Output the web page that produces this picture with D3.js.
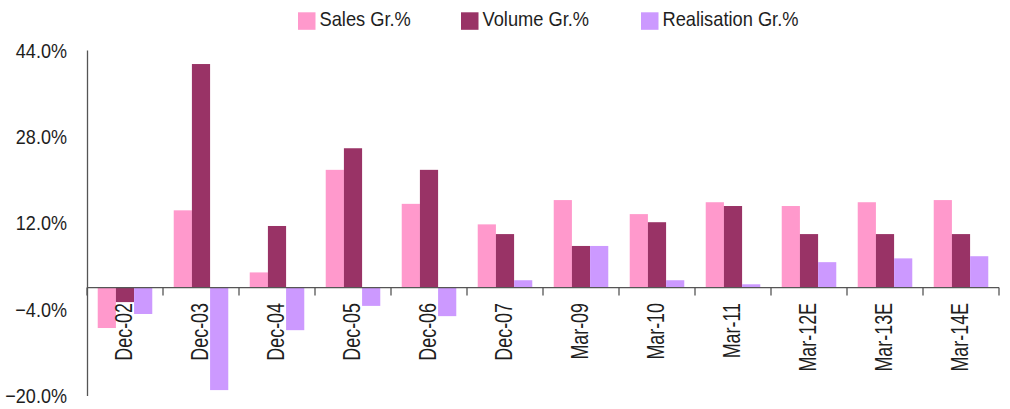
<!DOCTYPE html>
<html>
<head>
<meta charset="utf-8">
<script src="https://cdn.jsdelivr.net/npm/d3@7"></script>
<style>
  html, body { margin: 0; padding: 0; background: #fff; }
  svg { display: block; }
  text { font-family: "Liberation Sans", Arial, sans-serif; fill: #1e1e1e; }
</style>
</head>
<body>
<svg id="chart" width="1010" height="409"></svg>
<script>
// Categories (period labels)
const periods = ["Dec-02", "Dec-03", "Dec-04", "Dec-05", "Dec-06", "Dec-07",
                 "Mar-09", "Mar-10", "Mar-11", "Mar-12E", "Mar-13E", "Mar-14E"];

// Growth rates, in percent
const salesGr       = [-7.5, 14.3,  2.8, 21.8, 15.5, 11.7, 16.2, 13.6, 15.8, 15.1, 15.8, 16.2];
const volumeGr      = [-2.7, 41.4, 11.4, 25.8, 21.8,  9.9,  7.7, 12.1, 15.1,  9.9,  9.9,  9.9];
const realisationGr = [-4.9, -19.0, -7.9, -3.4, -5.3, 1.35, 7.7, 1.35, 0.6,  4.7,  5.4,  5.8];

// Value axis ticks
const yTicks = [-20, -4, 12, 28, 44];

const seriesNames  = ["Sales Gr.%", "Volume Gr.%", "Realisation Gr.%"];
const seriesColors = ["#FF99CC", "#993366", "#CC99FF"];
const seriesValues = [salesGr, volumeGr, realisationGr];

const svg = d3.select("#chart");

const plotLeft = 87, plotRight = 999, plotTop = 50, plotBottom = 395.5;

const x = d3.scaleBand().domain(periods).range([plotLeft, plotRight]).paddingInner(0).paddingOuter(0);
const xs = d3.scaleBand().domain(seriesNames).range([0, x.bandwidth()])
  .paddingInner(0).paddingOuter(0.59);
const y = d3.scaleLinear().domain([-20, 44]).range([plotBottom, plotTop]);

// Bars
seriesNames.forEach((name, si) => {
  svg.append("g")
    .selectAll("rect")
    .data(periods.map((p, i) => ({ p, v: seriesValues[si][i] })))
    .join("rect")
    .attr("x", d => x(d.p) + xs(name))
    .attr("width", xs.bandwidth())
    .attr("y", d => y(Math.max(0, d.v)))
    .attr("height", d => Math.abs(y(d.v) - y(0)))
    .attr("fill", seriesColors[si]);
});

// Value axis: line only, no tick marks
const yAxis = svg.append("g")
  .attr("transform", `translate(${plotLeft},0)`)
  .call(d3.axisLeft(y).tickValues(yTicks).tickSize(0).tickFormat(""));
yAxis.select(".domain").attr("stroke", "#555").attr("stroke-width", 1.3);

// Value axis labels (narrow type)
svg.append("g")
  .selectAll("text")
  .data(yTicks)
  .join("text")
  .attr("transform", d => `translate(67,${y(d)}) scale(0.86,1)`)
  .attr("text-anchor", "end")
  .attr("dy", "0.36em")
  .attr("font-size", 21)
  .text(d => d3.format(".1f")(d) + "%");

// Category axis along zero, ticks at band boundaries pointing down
const xAxis = svg.append("g")
  .attr("transform", `translate(0,${y(0)})`);
xAxis.append("line")
  .attr("x1", plotLeft).attr("x2", plotRight)
  .attr("stroke", "#555").attr("stroke-width", 1.3);
const boundaries = periods.map(p => x(p)).concat([plotRight]);
xAxis.selectAll("line.tick")
  .data(boundaries)
  .join("line")
  .attr("class", "tick")
  .attr("x1", d => d).attr("x2", d => d)
  .attr("y1", 0).attr("y2", 8)
  .attr("stroke", "#555").attr("stroke-width", 1.3);

// Rotated category labels
svg.append("g")
  .selectAll("text")
  .data(periods)
  .join("text")
  .attr("transform", d => `translate(${x(d) + x.bandwidth() / 2},303) rotate(-90) scale(0.73,1)`)
  .attr("text-anchor", "end")
  .attr("dy", "0.27em")
  .attr("font-size", 24.5)
  .text(d => d);

// Legend
const legendX = [298, 461, 641];
const legend = svg.append("g");
seriesNames.forEach((name, i) => {
  legend.append("rect")
    .attr("x", legendX[i]).attr("y", 12.3)
    .attr("width", 17.5).attr("height", 17.5)
    .attr("fill", seriesColors[i]);
  legend.append("text")
    .attr("transform", `translate(${legendX[i] + 21.5},25.5) scale(0.87,1)`)
    .attr("font-size", 21)
    .text(name);
});
</script>
</body>
</html>
